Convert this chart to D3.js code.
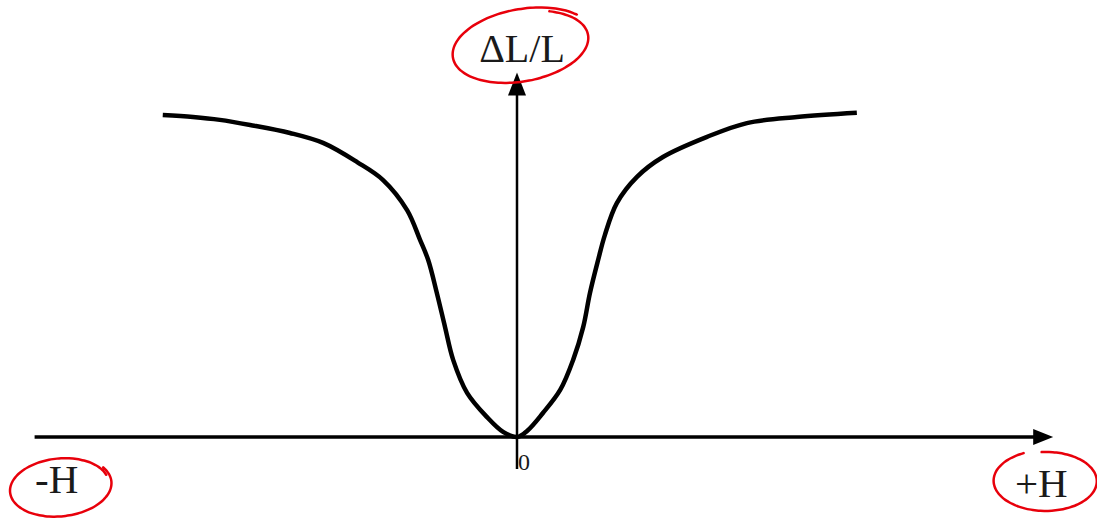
<!DOCTYPE html>
<html>
<head>
<meta charset="utf-8">
<style>
  body { margin: 0; background: #fff; }
  svg { display: block; }
  .lbl { font-family: "Liberation Serif", "Times New Roman", serif; fill: #1a1a1a; }
</style>
</head>
<body>
<svg width="1097" height="519"></svg>
<script src="https://d3js.org/d3.v7.min.js"></script>
<script>
// magnetoresistance-like curve: field H vs dL/L (arbitrary units)
var fieldH = [-7.38, -6.75, -6.19, -5.56, -4.73, -4.04, -3.33, -2.79, -2.29, -2.02, -1.85, -1.67, -1.5, -1.33, -1.04, -0.63, -0.29, 0,
              0.21, 0.54, 0.9, 1.17, 1.38, 1.52, 1.69, 1.83, 2.08, 2.5, 3.04, 3.96, 4.79, 5.83, 7.08];
var deltaL = [10.06, 10.0, 9.91, 9.75, 9.5, 9.19, 8.59, 8.03, 7.09, 6.16, 5.53, 4.5, 3.44, 2.41, 1.38, 0.63, 0.16, 0,
              0.19, 0.75, 1.47, 2.41, 3.44, 4.5, 5.53, 6.31, 7.31, 8.13, 8.75, 9.38, 9.81, 10.0, 10.13];

var axisX = [-10.05, 11.15];   // extent of the H axis (tip at the right)
var axisY = [-1.0, 11.3];      // extent of the dL/L axis (tip at the top, small overshoot below 0)
var labels = {y: "ΔL/L", xNeg: "-H", xPos: "+H", origin: "0"};

var svg = d3.select("svg");

var x = d3.scaleLinear().domain([-10, 11]).range([37, 1045]);
var y = d3.scaleLinear().domain([0, 10]).range([437, 117]);

// axes
svg.append("line")
    .attr("x1", x(axisX[0])).attr("x2", x(axisX[1]) - 12)
    .attr("y1", y(0)).attr("y2", y(0))
    .attr("stroke", "#000").attr("stroke-width", 3.5);
svg.append("path")
    .attr("d", "M" + (x(axisX[1]) + 1) + "," + y(0) + "L" + (x(axisX[1]) - 19) + "," + (y(0) - 8) + "L" + (x(axisX[1]) - 19) + "," + (y(0) + 8) + "Z")
    .attr("fill", "#000");

svg.append("line")
    .attr("x1", x(0)).attr("x2", x(0))
    .attr("y1", y(axisY[0])).attr("y2", y(axisY[1]) + 12)
    .attr("stroke", "#000").attr("stroke-width", 2.5);
svg.append("path")
    .attr("d", "M" + x(0) + "," + (y(axisY[1]) - 3) + "L" + (x(0) - 9) + "," + (y(axisY[1]) + 20) + "L" + (x(0) + 9) + "," + (y(axisY[1]) + 20) + "Z")
    .attr("fill", "#000");

// curve
var pts = fieldH.map(function(h, i) { return [h, deltaL[i]]; });
svg.append("path")
    .datum(pts)
    .attr("fill", "none")
    .attr("stroke", "#000")
    .attr("stroke-width", 4.5)
    .attr("stroke-linejoin", "round")
    .attr("d", d3.line()
        .curve(d3.curveCatmullRom.alpha(0.5))
        .x(function(d) { return x(d[0]); })
        .y(function(d) { return y(d[1]); }));

// labels
svg.append("text").attr("class", "lbl")
    .attr("x", x(0) + 5).attr("y", 62)
    .attr("text-anchor", "middle")
    .attr("font-size", 40)
    .text(labels.y);
svg.append("text").attr("class", "lbl")
    .attr("x", 35).attr("y", 493)
    .attr("font-size", 41)
    .text(labels.xNeg);
svg.append("text").attr("class", "lbl")
    .attr("x", 1015).attr("y", 497)
    .attr("font-size", 41)
    .text(labels.xPos);
svg.append("text").attr("class", "lbl")
    .attr("x", x(0) + 1).attr("y", 470)
    .attr("font-size", 24)
    .text(labels.origin);

// red hand-drawn circles around the labels
function loop(cx, cy, rx, ry, rot, a0, a1, grow) {
    var n = 80, out = [], r = rot * Math.PI / 180;
    for (var i = 0; i <= n; i++) {
        var t = i / n, a = (a0 + (a1 - a0) * t) * Math.PI / 180, k = 1 + grow * t;
        var ex = rx * k * Math.cos(a), ey = ry * k * Math.sin(a);
        out.push([cx + ex * Math.cos(r) - ey * Math.sin(r), cy + ex * Math.sin(r) + ey * Math.cos(r)]);
    }
    return out;
}
var redLine = d3.line().curve(d3.curveBasis);
[loop(522, 46, 66, 34, -10, -60, 325, 0.1),
 loop(60, 487, 52, 30, -6, -30, 345, -0.06),
 loop(1046, 481, 50, 29, 0, -95, 245, 0.06)].forEach(function(p) {
    svg.append("path")
        .attr("d", redLine(p))
        .attr("fill", "none")
        .attr("stroke", "#e8000b")
        .attr("stroke-width", 2.5)
        .attr("stroke-linecap", "round");
});
</script>
</body>
</html>
